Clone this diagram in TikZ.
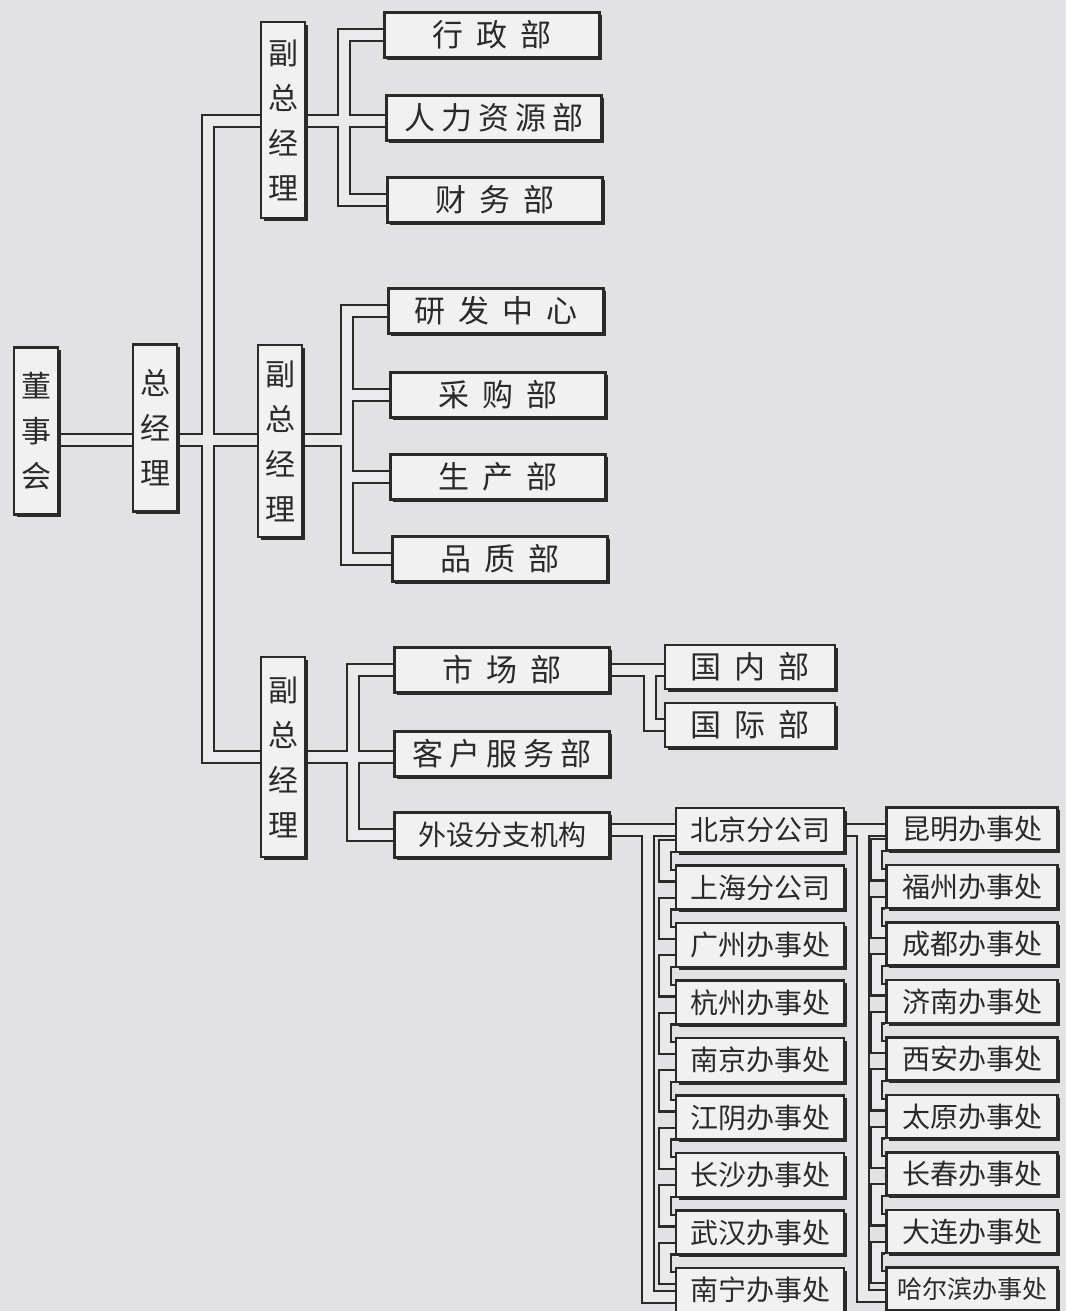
\documentclass[tikz,border=0pt]{standalone}
\usepackage{fontspec}
\newfontfamily\cjk{Noto Sans CJK SC}
\usetikzlibrary{shadows,calc}
\definecolor{paper}{HTML}{E2E2E4}
\definecolor{boxfill}{HTML}{F1F1F1}
\definecolor{pipefill}{HTML}{EAEAEC}
\definecolor{ink}{HTML}{2A2A2A}
\pgfdeclarelayer{back}
\pgfdeclarelayer{pipes}
\pgfsetlayers{back,pipes,main}
\newcommand{\deptfont}{\cjk\fontsize{15.5}{18}\selectfont}
\newcommand{\vfont}{\cjk\fontsize{15}{22.5}\selectfont}
\newcommand{\offfont}{\cjk\fontsize{14}{16}\selectfont}
\newcommand{\gp}{\hspace{6.5pt}}
\newcommand{\gq}{\hspace{3pt}}

\newcommand{\pipenet}[1]{%
  \draw[#1] (dsh.east |- hub) -- (zjl.west |- hub);
  \draw[#1] (zjl.east |- hub) -- (vp2.west |- hub);
  \draw[#1] (vp1.west |- ttop) -- (ttop) -- (tbot) -- (vp3.west |- tbot);
  \draw[#1] (vp1.east |- b1) -- (rl.west |- b1);
  \draw[#1] (xz.west) -| (b1) |- (cw.west);
  \draw[#1] (vp2.east |- hub) -- (b2);
  \draw[#1] (yf.west) -| (b2) |- (pz.west);
  \draw[#1] (cg.west) -- (cg.west -| b2);
  \draw[#1] (sc.west) -- (sc.west -| b2);
  \draw[#1] (vp3.east |- b3) -- (kf.west |- b3);
  \draw[#1] (scb.west) -| (b3) |- (ws.west);
  \draw[#1] (scb.east) -- (gn.west |- scb.east);
  \draw[#1] (b4) |- (gj.west);
  \draw[#1] (ws.east |- bj.west) -- (bj.west);
  \draw[#1] (b5) |- ([yshift=-3.5pt]nn.west);
  \draw[#1] (bj.east) -- (km.west |- bj.east);
  \draw[#1] (b6) |- ([yshift=-3.5pt]heb.west);
  \foreach \a/\b in {bj/sh,sh/gz,gz/hz,hz/nj,nj/jy,jy/cs,cs/wh,wh/nn}
    \draw[#1] ([yshift=-8pt]\a.west) -- ++(-10,0) |- ([yshift=6pt]\b.west);
  \foreach \a/\b in {km/fz,fz/cd,cd/jn,jn/xa,xa/ty,ty/cc,cc/dl,dl/heb}
    \draw[#1] ([yshift=-8pt]\a.west) -- ++(-9,0) |- ([yshift=6pt]\b.west);
}

\begin{document}
\begin{tikzpicture}[x=0.5pt, y=-0.5pt,
    box/.style={draw=ink, line width=1.1pt, fill=boxfill, text=ink, inner sep=0pt,
      minimum width=107.5pt, minimum height=22.5pt, font=\deptfont,
      drop shadow={shadow xshift=1.4pt, shadow yshift=-1.4pt, fill=ink, opacity=1}},
    vbox/.style={box, align=center, font=\vfont, minimum width=22pt, minimum height=83.5pt},
    office/.style={box, font=\offfont, minimum width=84pt, minimum height=22pt},
    pipeo/.style={draw=ink, line width=7pt},
    pipei/.style={draw=pipefill, line width=4.8pt}]
  \begin{pgfonlayer}{back}
    \fill[paper] (0,0) rectangle (1066,1311);
  \end{pgfonlayer}
  \useasboundingbox (0,0) rectangle (1066,1311);

  \node[vbox] (dsh) at (36,431) {董\\事\\会};
  \node[vbox] (zjl) at (155,428) {总\\经\\理};
  \node[vbox, minimum height=98pt] (vp1) at (283,120) {副\\总\\经\\理};
  \node[vbox, minimum height=96pt] (vp2) at (280,441) {副\\总\\经\\理};
  \node[vbox, minimum height=100pt] (vp3) at (283,757) {副\\总\\经\\理};

  \node[box] (xz) at (492,35) {行\gp 政\gp 部};
  \node[box] (rl) at (494,118) {人\gq 力\gq 资\gq 源\gq 部};
  \node[box] (cw) at (495,200) {财\gp 务\gp 部};
  \node[box] (yf) at (496,311) {研\gp 发\gp 中\gp 心};
  \node[box] (cg) at (498,395) {采\gp 购\gp 部};
  \node[box] (sc) at (498,477) {生\gp 产\gp 部};
  \node[box] (pz) at (500,559) {品\gp 质\gp 部};
  \node[box] (scb) at (502,670) {市\gp 场\gp 部};
  \node[box] (kf) at (502,754) {客\gq 户\gq 服\gq 务\gq 部};
  \node[box, font=\offfont] (ws) at (502,835) {外设分支机构};

  \node[box, minimum width=85pt, minimum height=22pt] (gn) at (750,667) {国\gp 内\gp 部};
  \node[box, minimum width=85pt, minimum height=22pt] (gj) at (750,725) {国\gp 际\gp 部};

  \foreach \n/\t [count=\i] in {bj/北京分公司,sh/上海分公司,gz/广州办事处,hz/杭州办事处,
      nj/南京办事处,jy/江阴办事处,cs/长沙办事处,wh/武汉办事处,nn/南宁办事处}
    \node[office] (\n) at (760,{830+57.5*(\i-1)}) {\t};
  \foreach \n/\t [count=\i] in {km/昆明办事处,fz/福州办事处,cd/成都办事处,jn/济南办事处,
      xa/西安办事处,ty/太原办事处,cc/长春办事处,dl/大连办事处}
    \node[office, minimum width=85.5pt, minimum height=21.5pt] (\n) at (972,{829+57.5*(\i-1)}) {\t};
  \node[office, minimum width=85.5pt, minimum height=21.5pt, font=\cjk\fontsize{12.5}{15}\selectfont]
    (heb) at (972,1289) {哈尔滨办事处};

  \coordinate (hub) at (208,440);
  \coordinate (ttop) at (208,121);
  \coordinate (tbot) at (208,757);
  \coordinate (b1) at (344,121);
  \coordinate (b2) at (347,440);
  \coordinate (b3) at (353,757);
  \coordinate (b4) at (650,670);
  \coordinate (b5) at (648,830);
  \coordinate (b6) at (863,830);

  \begin{pgfonlayer}{pipes}
    \pipenet{pipeo}
    \pipenet{pipei}
  \end{pgfonlayer}
\end{tikzpicture}
\end{document}
